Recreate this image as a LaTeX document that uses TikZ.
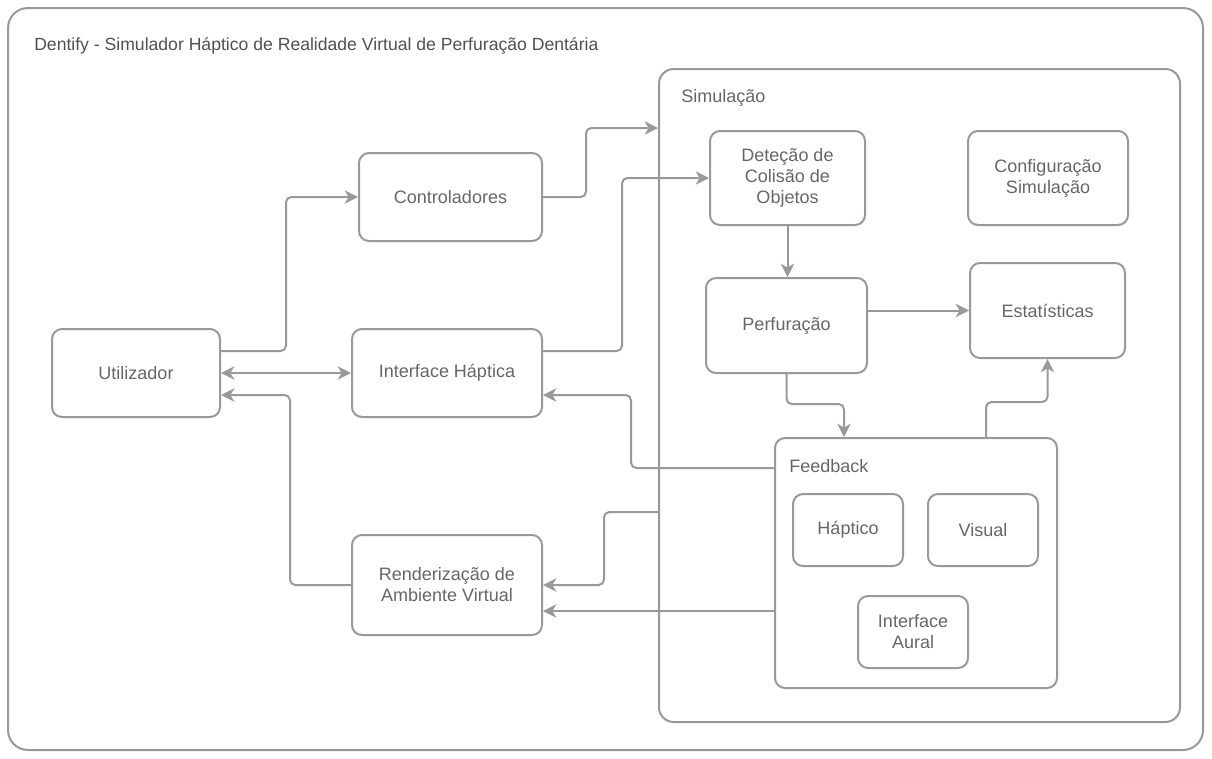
\documentclass[tikz,border=0pt]{standalone}
\usepackage{fontspec}
\setmainfont{Liberation Sans}
\usepackage{tikz}
\usetikzlibrary{arrows.meta,positioning,calc}
\usepackage{xcolor}
\definecolor{cLine}{RGB}{153,153,153}
\definecolor{cText}{RGB}{102,102,102}
\definecolor{cTitle}{RGB}{80,80,80}
\newcommand{\dfont}{\fontsize{13.5}{15.75}\selectfont}
\tikzset{
  basebox/.style={rectangle,rounded corners=7.5pt,draw=cLine,line width=1.5pt,
                  align=center,text=cText,font=\dfont,inner sep=0pt},
  groupbox/.style={basebox,rounded corners=11pt},
  lbl/.style={anchor=west,text=cText,font=\dfont,inner sep=0pt},
  arr/.style={-{Stealth[length=10pt,width=10pt,inset=3pt]},line width=1.5pt,
              draw=cLine,rounded corners=4pt},
  dblarr/.style={arr,{Stealth[length=10pt,width=10pt,inset=3pt]}-{Stealth[length=10pt,width=10pt,inset=3pt]}}
}
\begin{document}
\begin{tikzpicture}[x=0.75pt,y=-0.75pt]
  \useasboundingbox (0,0) rectangle (1212,758);

  % Outer frame
  \node[groupbox,rounded corners=15pt,minimum width=896.25pt,minimum height=556.5pt] (frame) at (605.5,379) {};
  \node[lbl,text=cTitle,font=\fontsize{13.2}{15.75}\selectfont] (title) at ($(frame.north west)+(27,39)$)
      {Dentify - Simulador Háptico de Realidade Virtual de Perfuração Dentária};

  % Simulation group
  \node[groupbox,minimum width=390.75pt,minimum height=489.75pt] (sim) at (919.5,395.5) {};
  \node[lbl] (simlbl) at ($(sim.north west)+(23,30)$) {Simulação};

  % Feedback group
  \node[basebox,minimum width=211.5pt,minimum height=187.5pt] (fb) at (916,563) {};
  \node[lbl] (fblbl) at ($(fb.north west)+(15,29)$) {Feedback};

  % Left side
  \node[basebox,minimum width=126pt,minimum height=66pt] (util) at (136,373) {Utilizador};
  \node[basebox,minimum width=137.25pt,minimum height=66pt] (ctrl) at (450.5,197) {Controladores};
  \node[basebox,minimum width=142.5pt,minimum height=66pt] (haptic) at (447,373) {Interface Háptica};
  \node[basebox,minimum width=142.5pt,minimum height=75pt] (render) at (447,585)
      {Renderização de\\Ambiente Virtual};

  % Inside simulation
  \node[basebox,minimum width=116.25pt,minimum height=70.5pt] (detect) at (787.5,178)
      {Deteção de\\Colisão de\\Objetos};
  \node[basebox,minimum width=120pt,minimum height=70.5pt] (config) at (1048,178)
      {Configuração\\Simulação};
  \node[basebox,minimum width=120.75pt,minimum height=71.25pt] (perf) at (786.5,325.5) {Perfuração};
  \node[basebox,minimum width=116.25pt,minimum height=71.25pt] (stats) at (1047.5,310.5) {Estatísticas};

  % Inside feedback
  \node[basebox,minimum width=82.5pt,minimum height=54pt] (hapt) at (848,530) {Háptico};
  \node[basebox,minimum width=82.5pt,minimum height=54pt] (visual) at (983,530) {Visual};
  \node[basebox,minimum width=82.5pt,minimum height=54pt] (aural) at (913,632) {Interface\\Aural};

  % Arrows
  \draw[arr] ($(util.east)+(0,-22)$) -| ($(ctrl.west)+(-72,0)$) -- (ctrl.west);
  \draw[arr] (ctrl.east) -| ($(sim.north west)+(-72,60)$) -- ($(sim.north west)+(0,60)$);
  \draw[arr] ($(haptic.east)+(0,-22)$) -| ($(detect.west)+(-87,0)$) -- (detect.west);
  \draw[dblarr] (util.east) -- (haptic.west);
  \draw[arr] (render.west) -| ($(util.east)+(69,22)$) -- ($(util.east)+(0,22)$);
  \draw[arr] ($(fb.west)+(0,-95)$) -| ($(haptic.east)+(88,22)$) -- ($(haptic.east)+(0,22)$);
  \draw[arr] ($(sim.west)+(0,116.5)$) -| ($(render.east)+(61,0)$) -- (render.east);
  \draw[arr] ($(fb.west)+(0,48)$) -- ($(render.east)+(0,26)$);
  \draw[arr] (detect.south) -- (detect.south |- perf.north);
  \draw[arr] (perf.east |- stats.west) -- (stats.west);
  \draw[arr] (perf.south) -- ++(0,30) -| ($(fb.north west)+(70,0)$);
  \draw[arr] ($(fb.north)+(70,0)$) -- ++(0,-35) -| (stats.south);

\end{tikzpicture}
\end{document}
